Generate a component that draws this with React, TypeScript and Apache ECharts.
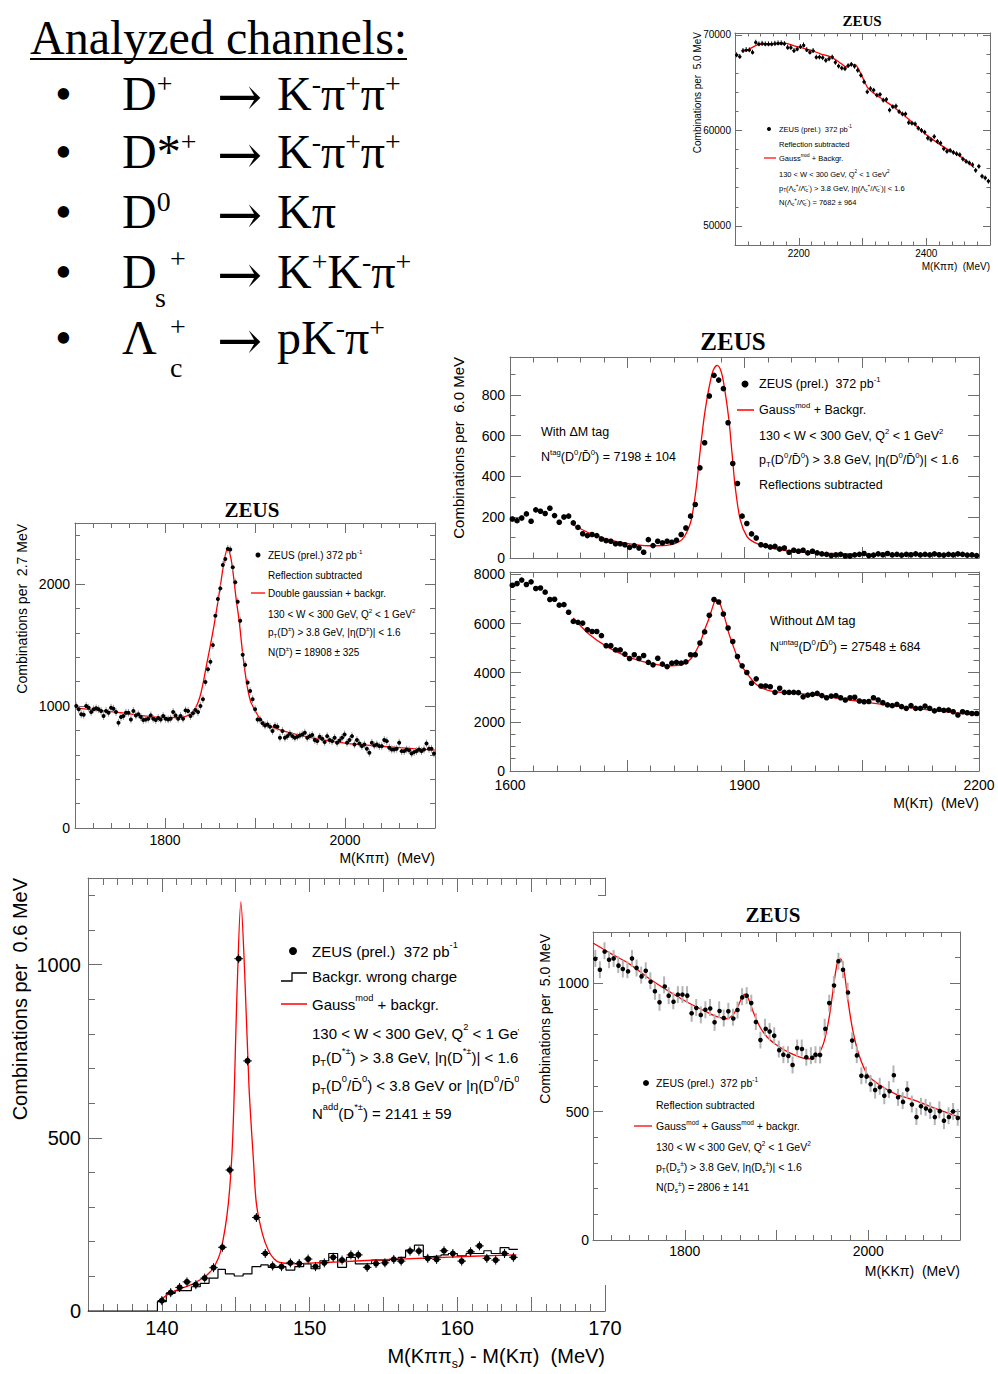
import React, { useEffect, useRef } from "react";
import * as echarts from "echarts";

const SANS = "'Liberation Sans', Arial, Helvetica, sans-serif";
const SERIF = "'Liberation Serif', 'Times New Roman', Times, serif";
const ARROW_FONT = "'DejaVu Serif', 'Liberation Serif', serif";
const FRAME = "#6e6e6e";
const RED = "#ff0000";

// ---------- Lambda_c : M(Kpipi), 5 MeV bins ----------
const lcFirstBin = 2102.5;
const lcBinWidth = 5;
const lcCounts = [
  67920, 67750, 68370, 68470, 68440, 68200, 69240, 69060, 69130, 69060,
  69060, 69060, 69130, 69170, 69170, 69100, 68720, 68720, 68370, 68540,
  68790, 68960, 68470, 68200, 68370, 67680, 67680, 67610, 67330, 67500,
  67680, 67120, 66740, 66530, 66460, 66780, 66920, 66710, 66290, 65770,
  65080, 64040, 64380, 64210, 63690, 63760, 63170, 63240, 62130, 62480,
  62550, 61960, 61720, 61720, 60820, 60750, 60680, 60230, 60000, 59810,
  59190, 59010, 59360, 58840, 58670, 58080, 57800, 57900, 57700, 57560,
  57450, 57000, 56760, 56590, 56410, 55820, 56240, 55200, 55020, 54680,
];
const lcFitX = [2112, 2121, 2137, 2150, 2165, 2178, 2194, 2208, 2220, 2235, 2251, 2260, 2267, 2275, 2281, 2288, 2296, 2301, 2309, 2324, 2350, 2377, 2403, 2429, 2455, 2475];
const lcFitY = [68300, 68470, 69000, 69050, 69080, 69130, 68820, 68600, 68370, 68000, 67680, 67300, 66980, 66640, 66800, 66920, 66120, 65420, 64400, 63600, 62400, 60900, 59400, 58200, 57200, 56100];

// ---------- D0 : M(Kpi), 6 MeV bins ----------
const d0FirstBin = 1603;
const d0BinWidth = 6;
const d0TagCounts = [
  191, 183, 196, 216, 180, 236, 229, 218, 244, 208,
  175, 201, 205, 172, 150, 119, 110, 115, 110, 93,
  85, 82, 70, 70, 65, 52, 61, 49, 28, 90,
  61, 82, 74, 82, 77, 87, 115, 147, 205, 262,
  442, 565, 794, 895, 872, 830, 663, 463, 365, 205,
  169, 118, 98, 65, 61, 54, 57, 44, 49, 28,
  38, 33, 38, 25, 33, 25, 20, 18, 12, 15,
  18, 10, 10, 15, 18, 22, 12, 14, 20, 16,
  22, 15, 18, 14, 18, 16, 20, 15, 18, 15,
  20, 16, 14, 18, 15, 20, 18, 14, 15, 12,
];
const d0TagFitX = [1680, 1700, 1720, 1740, 1760, 1780, 1800, 1812, 1820, 1826, 1832, 1838.5, 1843, 1848, 1852, 1856, 1860, 1865, 1870, 1874, 1880, 1884, 1888, 1894.5, 1903, 1912, 1926, 1945, 1970, 2000, 2050, 2100, 2150, 2200];
const d0TagFitY = [164, 125, 98, 78, 66, 60, 62, 72, 90, 125, 188, 352, 515, 679, 780, 860, 920, 944, 915, 843, 679, 515, 352, 188, 106, 78, 57, 40, 29, 24, 19, 17, 15, 14];
const d0UntagCounts = [
  7560, 7630, 7770, 7590, 7700, 7430, 7450, 7280, 6980, 6990,
  6750, 6770, 6460, 6090, 6050, 6020, 5750, 5680, 5680, 5510,
  5100, 5100, 4930, 4930, 4760, 4580, 4730, 4580, 4700, 4420,
  4320, 4590, 4350, 4250, 4390, 4420, 4390, 4440, 4730, 4730,
  5210, 5660, 6340, 6980, 6880, 6390, 5820, 5270, 4660, 4280,
  4010, 3570, 3750, 3460, 3460, 3430, 3200, 3370, 3200, 3200,
  3200, 3190, 3020, 3090, 3120, 3160, 3070, 2980, 3050, 3070,
  2980, 2890, 2980, 3000, 2850, 2820, 2830, 2980, 2890, 2780,
  2690, 2660, 2710, 2620, 2550, 2660, 2550, 2550, 2640, 2550,
  2450, 2510, 2470, 2480, 2410, 2280, 2410, 2370, 2340, 2340,
];
const d0UntagFitX = [1681, 1702, 1725, 1747, 1769, 1790, 1801, 1818, 1832, 1843, 1849, 1854, 1859, 1862, 1865, 1868, 1870, 1876, 1880, 1885, 1890, 1894, 1903, 1916, 1934, 1970, 2015, 2059, 2104, 2149, 2200];
const d0UntagFitY = [6230, 5550, 5040, 4700, 4460, 4320, 4280, 4320, 4590, 5210, 5750, 6160, 6650, 6910, 6950, 6850, 6700, 6090, 5600, 5140, 4700, 4390, 3980, 3500, 3250, 3160, 2980, 2780, 2600, 2440, 2280];

// ---------- D+ : M(Kpipi), 2.7 MeV bins ----------
const dpFirstBin = 1701.4;
const dpBinWidth = 2.76;
const dpCounts = [
  1000, 973, 932, 929, 1000, 986, 951, 973, 981, 973,
  959, 918, 959, 945, 986, 978, 951, 863, 910, 918,
  945, 945, 890, 959, 923, 932, 910, 885, 890, 896,
  923, 896, 885, 901, 890, 918, 896, 890, 896, 951,
  923, 896, 918, 896, 964, 959, 918, 940, 967, 951,
  1000, 1055, 1197, 1301, 1362, 1499, 1740, 1877, 1964, 2156,
  2205, 2288, 2282, 2137, 2014, 1855, 1699, 1420, 1337, 1192,
  1123, 1055, 973, 890, 890, 858, 841, 849, 830, 795,
  836, 830, 740, 795, 740, 753, 773, 753, 740, 748,
  759, 767, 781, 740, 753, 762, 721, 712, 748, 732,
  704, 753, 721, 712, 740, 699, 718, 740, 767, 699,
  721, 753, 685, 721, 693, 671, 685, 649, 616, 699,
  677, 685, 671, 671, 721, 712, 658, 644, 644, 649,
  699, 630, 630, 644, 638, 611, 622, 630, 644, 630,
  644, 693, 649, 649, 611,
];
const dpFitX = [1700, 1750, 1800, 1820, 1831.5, 1839, 1846, 1854, 1861, 1866, 1869.5, 1873, 1876, 1879, 1882.6, 1886, 1890.7, 1895, 1900, 1906, 1913, 1925, 1950, 2000, 2050, 2100];
const dpFitY = [985, 945, 905, 910, 960, 1080, 1330, 1640, 1960, 2200, 2290, 2220, 2070, 1880, 1685, 1450, 1190, 1040, 965, 890, 849, 810, 760, 695, 665, 638];

// ---------- D*+ : M(Kpipi_s) - M(Kpi), 0.6 MeV bins ----------
const dstX = [140.0, 140.6, 141.2, 141.7, 142.3, 142.9, 143.5, 144.1, 144.6, 145.2, 145.8, 146.4, 147.0, 147.5, 148.1, 148.7, 149.3, 149.9, 150.4, 151.0, 151.6, 152.2, 152.8, 153.3, 153.9, 154.5, 155.1, 155.7, 156.2, 156.8, 157.4, 158.0, 158.6, 159.1, 159.7, 160.3, 160.9, 161.5, 162.0, 162.6, 163.2, 163.8];
const dstCounts = [30, 53, 68, 84, 76, 95, 125, 184, 407, 1017, 722, 270, 166, 130, 128, 139, 137, 150, 128, 139, 155, 147, 162, 162, 126, 137, 139, 149, 144, 173, 173, 152, 149, 174, 166, 144, 171, 188, 152, 147, 166, 155];
const dstWrongChargeEdges = [135, 139.7, 140.3, 140.9, 141.4, 142.0, 142.6, 143.2, 143.8, 144.3, 144.9, 145.5, 146.1, 146.7, 147.2, 147.8, 148.4, 149.0, 149.6, 150.1, 150.7, 151.3, 151.9, 152.5, 153.1, 153.6, 154.2, 154.8, 155.4, 156.0, 156.5, 157.1, 157.7, 158.3, 158.9, 159.4, 160.0, 160.6, 161.2, 161.8, 162.3, 162.9, 163.5, 164.1];
const dstWrongChargeCounts = [0, 27, 51, 59, 59, 70, 80, 95, 120, 107, 101, 107, 128, 133, 126, 128, 118, 128, 136, 122, 145, 166, 126, 155, 136, 137, 147, 145, 149, 155, 176, 190, 157, 159, 162, 166, 159, 166, 166, 174, 166, 183, 178];
const dstFitX = [140.0, 140.5, 141.0, 141.5, 142.0, 142.5, 143.0, 143.5, 144.0, 144.5, 144.8, 145.1, 145.35, 145.6, 145.9, 146.2, 146.4, 146.8, 147.2, 147.6, 148.0, 149.0, 150, 152, 155, 158, 161, 164];
const dstFitY = [35, 50, 60, 68, 76, 88, 102, 125, 176, 310, 503, 936, 1181, 984, 647, 435, 310, 224, 176, 150, 140, 136, 138, 142, 148, 153, 158, 162];

// ---------- Ds+ : M(KKpi), 5 MeV bins ----------
const dsFirstBin = 1702.5;
const dsBinWidth = 5;
const dsCounts = [
  1097, 1053, 1127, 1092, 1097, 1073, 1056, 1053, 1097, 1060,
  1032, 1049, 1010, 969, 926, 994, 952, 932, 956, 956,
  956, 883, 906, 877, 897, 906, 848, 897, 865, 891,
  868, 896, 948, 952, 923, 851, 779, 829, 812, 796,
  744, 722, 722, 682, 748, 748, 712, 718, 722, 721,
  829, 923, 995, 1086, 1053, 969, 777, 722, 640, 643,
  610, 584, 599, 562, 586, 647, 556, 543, 586, 530,
  481, 521, 517, 504, 481, 507, 465, 484, 501, 478,
];
const dsFitX = [1700, 1720, 1740, 1760, 1780, 1800, 1820, 1835, 1845, 1852, 1858, 1863, 1866, 1870, 1875, 1882, 1890, 1900, 1915, 1930, 1938, 1945, 1952, 1958, 1963, 1967, 1970, 1974, 1978, 1983, 1990, 2000, 2015, 2030, 2050, 2075, 2100];
const dsFitY = [1157, 1115, 1075, 1022, 975, 932, 895, 870, 862, 875, 910, 950, 958, 935, 885, 830, 790, 760, 728, 708, 706, 720, 775, 880, 1010, 1090, 1095, 1040, 930, 820, 720, 640, 598, 568, 545, 510, 478];

// ---------- tick values and labels ----------
const lcXMajor = [2100, 2200, 2300, 2400, 2500];
const lcXLabels = [2200, 2400];
const lcYMajor = [50000, 60000, 70000];
const d0XMajor = [1600, 1750, 1900, 2050, 2200];
const d0XLabels = [1600, 1900, 2200];
const d0TagYMajor = [0, 200, 400, 600, 800];
const d0UntagYMajor = [0, 2000, 4000, 6000, 8000];
const dpXMajor = [1700, 1800, 1900, 2000, 2100];
const dpXLabels = [1800, 2000];
const dpYMajor = [0, 1000, 2000];
const dstXMajor = [135, 140, 145, 150, 155, 160, 165, 170];
const dstXLabels = [140, 150, 160, 170];
const dstYMajor = [0, 500, 1000];
const dsXMajor = [1700, 1800, 1900, 2000, 2100];
const dsXLabels = [1800, 2000];
const dsYMajor = [0, 500, 1000];

// ---------- helpers ----------
function T(x: number, y: number, text: string, fs: number, o: any = {}) {
  const ff = o.ff || SANS;
  const r = o.r || 0.62;
  const rise = o.rise ?? 0.38;
  const lh = Math.max(2 * rise * fs + r * fs, fs);
  const fill = o.fill || "#000";
  return {
    type: "text",
    x,
    y,
    z: o.z ?? 5,
    rotation: o.rot || 0,
    silent: true,
    style: {
      text,
      fontSize: fs,
      fontFamily: ff,
      fontWeight: o.fw || "normal",
      fill,
      align: o.align || "left",
      verticalAlign: o.va || "middle",
      lineHeight: lh,
      rich: {
        sup: { fontSize: r * fs, fontFamily: ff, lineHeight: r * fs, verticalAlign: "top", fill },
        sub: { fontSize: r * fs, fontFamily: ff, lineHeight: r * fs, verticalAlign: "bottom", fill },
      },
    },
  };
}
function L(x1: number, y1: number, x2: number, y2: number, color: string, w: number, z = 5) {
  return { type: "line", z, silent: true, shape: { x1, y1, x2, y2 }, style: { stroke: color, lineWidth: w } };
}
function C(cx: number, cy: number, r: number, z = 5) {
  return { type: "circle", z, silent: true, shape: { cx, cy, r }, style: { fill: "#000" } };
}

interface AxisSpec { min: number; max: number; minor: number; major: number[]; labels: number[]; margin: number }
interface PanelSpec { left: number; top: number; width: number; height: number; x: AxisSpec; y: AxisSpec; fs: number; majorLen: number; minorLen: number; z: number }

function buildOption() {
  const grids: any[] = [];
  const xAxes: any[] = [];
  const yAxes: any[] = [];
  const series: any[] = [];

  const axis = (a: AxisSpec, gridIndex: number, pos: string, kind: string, withLabels: boolean, p: PanelSpec) => {
    const o: any = { type: "value", gridIndex, position: pos, min: a.min, max: a.max, z: p.z, splitLine: { show: false }, axisPointer: { show: false } };
    if (kind === "major") {
      o.axisLine = { show: true, onZero: false, lineStyle: { color: FRAME, width: 1 } };
      o.axisTick = { show: true, inside: true, length: p.majorLen, customValues: a.major, lineStyle: { color: FRAME, width: 1 } };
      o.axisLabel = withLabels && a.labels.length
        ? { show: true, customValues: a.labels, fontSize: p.fs, fontFamily: SANS, color: "#000", margin: a.margin, formatter: (v: number) => String(v) }
        : { show: false };
    } else {
      o.interval = a.minor;
      o.axisLine = { show: false, onZero: false };
      o.axisTick = { show: true, inside: true, length: p.minorLen, lineStyle: { color: FRAME, width: 1 } };
      o.axisLabel = { show: false };
    }
    return o;
  };

  const panel = (p: PanelSpec) => {
    const g = grids.length;
    grids.push({ left: p.left, top: p.top, width: p.width, height: p.height, z: p.z });
    const xi = xAxes.length;
    xAxes.push(axis(p.x, g, "bottom", "major", true, p), axis(p.x, g, "bottom", "minor", false, p), axis(p.x, g, "top", "major", false, p), axis(p.x, g, "top", "minor", false, p));
    const yi = yAxes.length;
    yAxes.push(axis(p.y, g, "left", "major", true, p), axis(p.y, g, "left", "minor", false, p), axis(p.y, g, "right", "major", false, p), axis(p.y, g, "right", "minor", false, p));
    return { xi, yi, z: p.z };
  };

  const points = (ax: any, xs: number[], ys: number[], err: number, halfBin: number, r: number, errColor: string, errW: number) => ({
    type: "custom",
    xAxisIndex: ax.xi,
    yAxisIndex: ax.yi,
    z: ax.z + 3,
    silent: true,
    encode: { x: 0, y: 1 },
    data: xs.map((x, i) => [x, ys[i]]),
    renderItem: (_params: any, api: any) => {
      const x = api.value(0);
      const y = api.value(1);
      const c = api.coord([x, y]);
      const t = api.coord([x, y + err]);
      const b = api.coord([x, y - err]);
      const lft = api.coord([x - halfBin, y]);
      const rgt = api.coord([x + halfBin, y]);
      return {
        type: "group",
        children: [
          { type: "line", shape: { x1: c[0], y1: t[1], x2: c[0], y2: b[1] }, style: { stroke: errColor, lineWidth: errW } },
          { type: "line", shape: { x1: lft[0], y1: c[1], x2: rgt[0], y2: c[1] }, style: { stroke: errColor, lineWidth: 1 } },
          { type: "circle", shape: { cx: c[0], cy: c[1], r }, style: { fill: "#000" } },
        ],
      };
    },
  });

  const fit = (ax: any, xs: number[], ys: number[]) => ({
    type: "line",
    xAxisIndex: ax.xi,
    yAxisIndex: ax.yi,
    z: ax.z + 2,
    silent: true,
    showSymbol: false,
    symbol: "none",
    smooth: 0.3,
    lineStyle: { color: RED, width: 1.3 },
    data: xs.map((x, i) => [x, ys[i]]),
  });

  const binsX = (first: number, w: number, n: number) => Array.from({ length: n }, (_, i) => first + i * w);

  // Lambda_c
  const lc = panel({
    left: 735, top: 33, width: 255, height: 212, fs: 10, majorLen: 7, minorLen: 3.5, z: 1,
    x: { min: 2100, max: 2500, minor: 20, major: lcXMajor, labels: lcXLabels, margin: 3 },
    y: { min: 48000, max: 70200, minor: 2000, major: lcYMajor, labels: lcYMajor, margin: 4 },
  });
  series.push(fit(lc, lcFitX, lcFitY));
  series.push(points(lc, binsX(lcFirstBin, lcBinWidth, lcCounts.length), lcCounts, 250, 2.5, 1.6, "#000", 1));

  // D0 tagged
  const d0t = panel({
    left: 510, top: 357, width: 469, height: 201, fs: 14, majorLen: 11, minorLen: 5.5, z: 1,
    x: { min: 1600, max: 2200, minor: 30, major: d0XMajor, labels: [], margin: 7 },
    y: { min: 0, max: 985, minor: 100, major: d0TagYMajor, labels: d0TagYMajor, margin: 5 },
  });
  series.push(fit(d0t, d0TagFitX, d0TagFitY));
  series.push(points(d0t, binsX(d0FirstBin, d0BinWidth, d0TagCounts.length), d0TagCounts, 12, 0, 2.8, "#000", 1));

  // D0 untagged
  const d0u = panel({
    left: 510, top: 572, width: 469, height: 199, fs: 14, majorLen: 11, minorLen: 5.5, z: 1,
    x: { min: 1600, max: 2200, minor: 30, major: d0XMajor, labels: d0XLabels, margin: 7 },
    y: { min: 0, max: 8100, minor: 500, major: d0UntagYMajor, labels: d0UntagYMajor, margin: 5 },
  });
  series.push(fit(d0u, d0UntagFitX, d0UntagFitY));
  series.push(points(d0u, binsX(d0FirstBin, d0BinWidth, d0UntagCounts.length), d0UntagCounts, 70, 0, 2.8, "#000", 1));

  // D+
  const dp = panel({
    left: 75, top: 523, width: 360, height: 305, fs: 14, majorLen: 10, minorLen: 5, z: 1,
    x: { min: 1700, max: 2100, minor: 20, major: dpXMajor, labels: dpXLabels, margin: 5 },
    y: { min: 0, max: 2500, minor: 200, major: dpYMajor, labels: dpYMajor, margin: 5 },
  });
  series.push(fit(dp, dpFitX, dpFitY));
  series.push(points(dp, binsX(dpFirstBin, dpBinWidth, dpCounts.length), dpCounts, 32, 1.38, 2, "#9a9a9a", 1));

  // D*
  const dst = panel({
    left: 88, top: 878, width: 517, height: 433, fs: 20, majorLen: 14, minorLen: 7, z: 1,
    x: { min: 135, max: 170, minor: 1, major: dstXMajor, labels: dstXLabels, margin: 7 },
    y: { min: 0, max: 1250, minor: 100, major: dstYMajor, labels: dstYMajor, margin: 7 },
  });
  const wcData = dstWrongChargeCounts.map((v, i) => [dstWrongChargeEdges[i], v]);
  wcData.push([dstWrongChargeEdges[dstWrongChargeEdges.length - 1], dstWrongChargeCounts[dstWrongChargeCounts.length - 1]]);
  series.push({
    type: "line", xAxisIndex: dst.xi, yAxisIndex: dst.yi, z: 2, silent: true, step: "end",
    showSymbol: false, symbol: "none", lineStyle: { color: "#000", width: 1.2 }, data: wcData,
  });
  series.push(fit(dst, dstFitX, dstFitY));
  series.push(points(dst, dstX, dstCounts, 13, 0.29, 3, "#000", 1));

  // Ds
  const ds = panel({
    left: 593, top: 932, width: 367, height: 308, fs: 14, majorLen: 10, minorLen: 5, z: 11,
    x: { min: 1700, max: 2100, minor: 20, major: dsXMajor, labels: dsXLabels, margin: 4 },
    y: { min: 0, max: 1200, minor: 100, major: dsYMajor, labels: dsYMajor, margin: 4 },
  });
  series.push(fit(ds, dsFitX, dsFitY));
  series.push(points(ds, binsX(dsFirstBin, dsBinWidth, dsCounts.length), dsCounts, 33, 0, 2.3, "#b4b4b4", 2));

  const big = { ff: SERIF, r: 0.58, rise: 0.21 };
  const rowsY = [93, 151, 211, 271, 337];
  const arrow = (y: number) => T(217, y + 3, "→", 54, { ff: ARROW_FONT });
  const graphics: any[] = [
    // ----- analyzed channels -----
    T(30, 37, "Analyzed channels:", 48, { ff: SERIF }),
    L(30, 59, 407, 59, "#000", 2),
    ...rowsY.map((y) => T(55, y, "•", 48, { ff: SERIF })),
    ...rowsY.map((y) => arrow(y)),
    T(122, rowsY[0], "D{sup|+}", 48, big),
    T(277, rowsY[0], "K{sup|-}π{sup|+}π{sup|+}", 48, big),
    T(122, rowsY[1], "D*{sup|+}", 48, big),
    T(277, rowsY[1], "K{sup|-}π{sup|+}π{sup|+}", 48, big),
    T(122, rowsY[2], "D{sup|0}", 48, big),
    T(277, rowsY[2], "Kπ", 48, big),
    T(122, rowsY[3], "D", 48, big),
    T(170, 258, "+", 28, { ff: SERIF }),
    T(155, 297, "s", 28, { ff: SERIF }),
    T(277, rowsY[3], "K{sup|+}K{sup|-}π{sup|+}", 48, big),
    T(122, rowsY[4], "Λ", 48, big),
    T(170, 326, "+", 28, { ff: SERIF }),
    T(170, 367, "c", 28, { ff: SERIF }),
    T(277, rowsY[4], "pK{sup|-}π{sup|+}", 48, big),

    // ----- Lambda_c panel texts -----
    T(862, 21, "ZEUS", 15, { ff: SERIF, fw: "bold", align: "center" }),
    T(697, 32, "Combinations per  5.0 MeV", 10, { rot: Math.PI / 2, align: "right" }),
    T(990, 266, "M(Kππ)  (MeV)", 10, { align: "right" }),
    C(769, 129, 2),
    T(779, 129, "ZEUS (prel.)  372 pb{sup|-1}", 7.5),
    T(779, 144, "Reflection subtracted", 7.5),
    L(764, 158, 776, 158, RED, 1.2),
    T(779, 158, "Gauss{sup|mod} + Backgr.", 7.5),
    T(779, 174, "130 < W < 300 GeV, Q{sup|2} < 1 GeV{sup|2}", 7.5),
    T(779, 188, "p{sub|T}(Λ{sub|c}{sup|+}/Λ̄{sub|c}{sup|-}) > 3.8 GeV, |η(Λ{sub|c}{sup|+}/Λ̄{sub|c}{sup|-})| < 1.6", 7.5),
    T(779, 202, "N(Λ{sub|c}{sup|+}/Λ̄{sub|c}{sup|-}) = 7682 ± 964", 7.5),

    // ----- D0 panel texts -----
    T(733, 341, "ZEUS", 25, { ff: SERIF, fw: "bold", align: "center" }),
    T(458, 357, "Combinations per  6.0 MeV", 15, { rot: Math.PI / 2, align: "right" }),
    T(979, 803, "M(Kπ)  (MeV)", 14, { align: "right" }),
    C(745, 384, 3.5),
    T(759, 384, "ZEUS (prel.)  372 pb{sup|-1}", 12.5),
    L(737, 410, 754, 410, RED, 1.5),
    T(759, 410, "Gauss{sup|mod} + Backgr.", 12.5),
    T(759, 436, "130 < W < 300 GeV, Q{sup|2} < 1 GeV{sup|2}", 12.5),
    T(759, 460, "p{sub|T}(D{sup|0}/D̄{sup|0}) > 3.8 GeV, |η(D{sup|0}/D̄{sup|0})| < 1.6", 12.5),
    T(759, 485, "Reflections subtracted", 12.5),
    T(541, 432, "With ΔM tag", 12.5),
    T(541, 457, "N{sup|tag}(D{sup|0}/D̄{sup|0}) = 7198 ± 104", 12.5),
    T(770, 621, "Without ΔM tag", 12.5),
    T(770, 647, "N{sup|untag}(D{sup|0}/D̄{sup|0}) = 27548 ± 684", 12.5),

    // ----- D+ panel texts -----
    T(252, 510, "ZEUS", 21, { ff: SERIF, fw: "bold", align: "center" }),
    T(22, 524, "Combinations per  2.7 MeV", 14, { rot: Math.PI / 2, align: "right" }),
    T(435, 858, "M(Kππ)  (MeV)", 14, { align: "right" }),
    C(258, 555, 2.5),
    T(268, 555, "ZEUS (prel.) 372 pb{sup|-1}", 10),
    T(268, 575, "Reflection subtracted", 10),
    L(251, 593, 265, 593, RED, 1.3),
    T(268, 593, "Double gaussian + backgr.", 10),
    T(268, 614, "130 < W < 300 GeV, Q{sup|2} < 1 GeV{sup|2}", 10),
    T(268, 632, "p{sub|T}(D{sup|±}) > 3.8 GeV, |η(D{sup|±})| < 1.6", 10),
    T(268, 652, "N(D{sup|±}) = 18908 ± 325", 10),

    // ----- D* panel texts (partly hidden by the Ds pad) -----
    T(20, 878, "Combinations per  0.6 MeV", 20, { rot: Math.PI / 2, align: "right" }),
    T(605, 1356, "M(Kππ{sub|s}) - M(Kπ)  (MeV)", 20, { align: "right" }),
    C(293, 951, 4),
    T(312, 951, "ZEUS (prel.)  372 pb{sup|-1}", 15),
    { type: "polyline", z: 5, silent: true, shape: { points: [[281, 981], [292, 981], [292, 973], [307, 973]] }, style: { stroke: "#000", lineWidth: 1.3, fill: null } },
    T(312, 976, "Backgr. wrong charge", 15),
    L(281, 1004, 307, 1004, RED, 1.5),
    T(312, 1004, "Gauss{sup|mod} + backgr.", 15),
    T(312, 1033, "130 < W < 300 GeV, Q{sup|2} < 1 GeV{sup|2}", 15),
    T(312, 1057, "p{sub|T}(D{sup|*±}) > 3.8 GeV, |η(D{sup|*±})| < 1.6", 15),
    T(312, 1085, "p{sub|T}(D{sup|0}/D̄{sup|0}) < 3.8 GeV or |η(D{sup|0}/D̄{sup|0})| > 1.6", 15),
    T(312, 1113, "N{sup|add}(D{sup|*±}) = 2141 ± 59", 15),

    // ----- Ds pad (covers D* panel) -----
    { type: "rect", z: 10, silent: true, shape: { x: 519, y: 896, width: 479, height: 389 }, style: { fill: "#fff" } },
    T(773, 915, "ZEUS", 21, { ff: SERIF, fw: "bold", align: "center", z: 15 }),
    T(545, 934, "Combinations per  5.0 MeV", 14, { rot: Math.PI / 2, align: "right", z: 15 }),
    T(960, 1271, "M(KKπ)  (MeV)", 14, { align: "right", z: 15 }),
    C(646, 1083, 3, 15),
    T(656, 1083, "ZEUS (prel.)  372 pb{sup|-1}", 10.5, { z: 15 }),
    T(656, 1105, "Reflection subtracted", 10.5, { z: 15 }),
    L(634, 1126, 652, 1126, RED, 1.3, 15),
    T(656, 1126, "Gauss{sup|mod} + Gauss{sup|mod} + backgr.", 10.5, { z: 15 }),
    T(656, 1147, "130 < W < 300 GeV, Q{sup|2} < 1 GeV{sup|2}", 10.5, { z: 15 }),
    T(656, 1167, "p{sub|T}(D{sub|s}{sup|±}) > 3.8 GeV, |η(D{sub|s}{sup|±})| < 1.6", 10.5, { z: 15 }),
    T(656, 1187, "N(D{sub|s}{sup|±}) = 2806 ± 141", 10.5, { z: 15 }),
  ];

  return {
    animation: false,
    backgroundColor: "#fff",
    textStyle: { fontFamily: SANS },
    grid: grids,
    xAxis: xAxes,
    yAxis: yAxes,
    series,
    graphic: { elements: graphics },
  };
}

export default function App() {
  const ref = useRef<HTMLDivElement>(null);
  useEffect(() => {
    document.body.style.margin = "0";
    const chart = echarts.init(ref.current as HTMLDivElement, null, { renderer: "svg" });
    chart.setOption(buildOption() as any);
    return () => chart.dispose();
  }, []);
  return <div ref={ref} style={{ position: "absolute", left: 0, top: 0, width: 998, height: 1374, background: "#fff" }} />;
}
